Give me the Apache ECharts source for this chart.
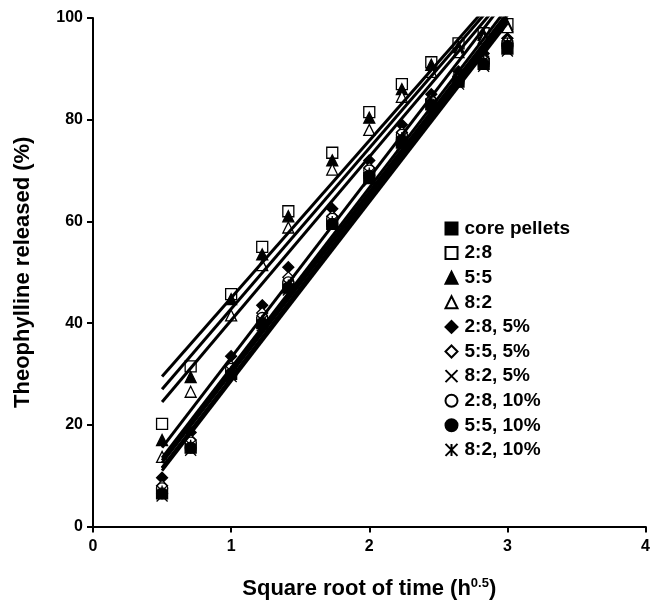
<!DOCTYPE html>
<html>
<head>
<meta charset="utf-8">
<script src="https://cdn.jsdelivr.net/npm/echarts@6/dist/echarts.min.js"></script>
<style>
html,body{margin:0;padding:0;background:#fff;}
#c{width:653px;height:605px;}
</style>
</head>
<body>
<div id="c"></div>
<script>
// ---- data ----
const xVals = [0.5, 0.707, 1, 1.225, 1.414, 1.732, 2, 2.236, 2.449, 2.646, 2.828, 3];
const seriesNames = ['core pellets', '2:8', '5:5', '8:2', '2:8, 5%', '5:5, 5%', '8:2, 5%', '2:8, 10%', '5:5, 10%', '8:2, 10%'];
const corePellets = [6.5, 15.5, 30, 40, 47, 59.5, 68.5, 75.5, 83, 87.5, 91, 94];
const r28 = [20.2, 31.5, 45.7, 55, 62, 73.5, 81.5, 87, 91.3, 95, 97, 98.8];
const r55 = [17, 29.4, 44.7, 53.5, 61, 72, 80.4, 86, 90.8, 94.3, 96.7, 98.5];
const r82 = [13.7, 26.5, 41.5, 51.4, 58.8, 70.2, 78, 84.5, 89.4, 93.3, 96, 98.2];
const r28p5 = [9.6, 18.5, 33.5, 43.5, 51, 62.5, 72, 79, 85, 89.5, 93, 96];
const r55p5 = [8, 17, 31.5, 42, 49, 61, 70.5, 77.5, 84, 88.5, 92, 95.5];
const r82p5 = [6, 15, 29.5, 39.5, 46.5, 59, 68, 75, 82, 87, 90.5, 93.5];
const r28p10 = [7.5, 16.5, 31, 41, 48, 60.5, 70, 77, 83.5, 88, 91.5, 95];
const r55p10 = [6.5, 15.5, 30, 40, 47, 59.5, 69, 76, 83, 87.5, 91, 94.5];
const r82p10 = [7, 16, 30.5, 40.5, 47.5, 60, 69.5, 76.5, 83, 88, 91.5, 95];
const seriesValues = [corePellets, r28, r55, r82, r28p5, r55p5, r82p5, r28p10, r55p10, r82p10];
// fitted straight lines: value at x = 0.5 and at x = 3 (clipped at 100)
const fitX = [0.5, 3];
const fitStart = [11.5, 29.5, 27, 24.5, 15.5, 13.5, 11, 13, 11.5, 12.5];
const fitEnd   = [99.5, 106.8, 106, 104.8, 104, 102, 99, 101, 100, 100.5];
const xTicks = [0, 1, 2, 3, 4];
const yTicks = [0, 20, 40, 60, 80, 100];

// ---- styles ----
const FONT = '"Liberation Sans", Arial, sans-serif';
const markers = [
  {symbol: 'rect', fill: '#000'},
  {symbol: 'rect', fill: '#fff'},
  {symbol: 'triangle', fill: '#000'},
  {symbol: 'triangle', fill: '#fff'},
  {symbol: 'diamond', fill: '#000'},
  {symbol: 'diamond', fill: '#fff'},
  {symbol: 'path://M0,0L10,10M10,0L0,10', fill: 'none'},
  {symbol: 'circle', fill: '#fff'},
  {symbol: 'circle', fill: '#000'},
  {symbol: 'path://M0,0L10,10M10,0L0,10M5,0L5,10', fill: 'none'}
];

const series = [];
seriesNames.forEach((name, i) => {
  series.push({
    type: 'line',
    name: 'fit ' + name,
    data: [[fitX[0], fitStart[i]], [fitX[1], fitEnd[i]]],
    symbol: 'none',
    clip: true,
    lineStyle: {color: '#000', width: 3},
    silent: true,
    z: 3
  });
});
seriesNames.forEach((name, i) => {
  const m = markers[i];
  series.push({
    type: 'scatter',
    name: name,
    data: xVals.map((x, j) => [x, seriesValues[i][j]]),
    symbol: m.symbol,
    symbolSize: 11,
    itemStyle: {color: m.fill, borderColor: '#000', borderWidth: 1.3, opacity: 1},
    z: 2
  });
});

const chart = echarts.init(document.getElementById('c'), null, {renderer: 'canvas'});
chart.setOption({
  animation: false,
  backgroundColor: '#fff',
  grid: {left: 93, right: 6, top: 18, bottom: 77, containLabel: false},
  legend: {
    data: seriesNames,
    orient: 'vertical',
    left: 438,
    top: 214,
    padding: 5,
    itemWidth: 12,
    itemHeight: 12,
    itemGap: 5.6,
    textStyle: {fontFamily: FONT, fontWeight: 'bold', fontSize: 19, color: '#000', padding: [0, 0, 0, 2]},
    selectedMode: false
  },
  xAxis: {
    type: 'value',
    min: xTicks[0],
    max: xTicks[xTicks.length - 1],
    interval: 1,
    splitLine: {show: false},
    axisLine: {onZero: false, lineStyle: {color: '#000', width: 2}},
    axisTick: {inside: false, length: 6, lineStyle: {color: '#000', width: 2}},
    axisLabel: {fontFamily: FONT, fontWeight: 'bold', fontSize: 16, color: '#000', margin: 12},
    name: '{a|Square root of time (h}{s|0.5}{a|)}',
    nameLocation: 'middle',
    nameGap: 50,
    nameTextStyle: {
      rich: {
        a: {fontFamily: FONT, fontWeight: 'bold', fontSize: 22, color: '#000'},
        s: {fontFamily: FONT, fontWeight: 'bold', fontSize: 13, color: '#000', verticalAlign: 'top', padding: [0, 0, 12, 0]}
      }
    }
  },
  yAxis: {
    type: 'value',
    min: yTicks[0],
    max: yTicks[yTicks.length - 1],
    interval: 20,
    splitLine: {show: false},
    axisLine: {onZero: false, lineStyle: {color: '#000', width: 2}},
    axisTick: {inside: false, length: 6, lineStyle: {color: '#000', width: 2}},
    axisLabel: {fontFamily: FONT, fontWeight: 'bold', fontSize: 16, color: '#000', margin: 10},
    name: 'Theophylline released (%)',
    nameLocation: 'middle',
    nameGap: 59,
    nameTextStyle: {fontFamily: FONT, fontWeight: 'bold', fontSize: 22, color: '#000'}
  },
  series: series
});
</script>
</body>
</html>
